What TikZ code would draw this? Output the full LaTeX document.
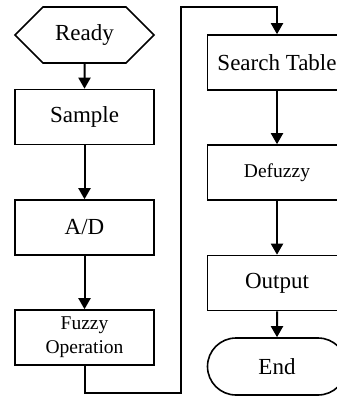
\documentclass[tikz,border=0pt]{standalone}
\usepackage{fontspec}
\setmainfont{Liberation Serif}
\usetikzlibrary{shapes.symbols, shapes.misc, arrows.meta}

\begin{document}
\begin{tikzpicture}[x=1pt, y=-1pt,
    nodes={font=\fontsize{23}{26}\selectfont, inner sep=0pt, line width=1.6pt},
    step_style/.style={rectangle, draw, minimum width=139pt, minimum height=55pt},
    small_style/.style={font=\fontsize{19.5}{24}\selectfont, align=center},
    start_style/.style={signal, signal to=west and east, signal pointer angle=90,
      draw, minimum width=139pt, minimum height=56pt},
    end_style/.style={rounded rectangle, draw, minimum width=139pt, minimum height=57pt},
    flow/.style={-{Triangle[length=11pt, width=12pt]}, line width=2pt}]

  \useasboundingbox (0,0) rectangle (337,396);
  \clip (0,0) rectangle (337,396);

  % left column
  \node[start_style] (ready) at (84.5,35) {Ready};
  \node[step_style] (sample) at (84.5,117) {Sample};
  \node[step_style] (ad) at (84.5,227.5) {A/D};
  \node[step_style, small_style] (fuzzy) at (84.5,337.5) {Fuzzy\\Operation};

  % right column
  \node[step_style] (search) at (277,62.5) {Search Table};
  \node[step_style, small_style] (defuzzy) at (277,172.5) {Defuzzy};
  \node[step_style] (output) at (277,283) {Output};
  \node[end_style] (end) at (277,366.5) {End};

  \coordinate (low_turn) at (181,393);
  \coordinate (top_turn) at (181,7);

  \draw[flow] (ready) -- (sample);
  \draw[flow] (sample) -- (ad);
  \draw[flow] (ad) -- (fuzzy);
  \draw[flow] (fuzzy.south) |- (low_turn) -- (top_turn) -| (search.north);
  \draw[flow] (search) -- (defuzzy);
  \draw[flow] (defuzzy) -- (output);
  \draw[flow] (output) -- (end);
\end{tikzpicture}
\end{document}
